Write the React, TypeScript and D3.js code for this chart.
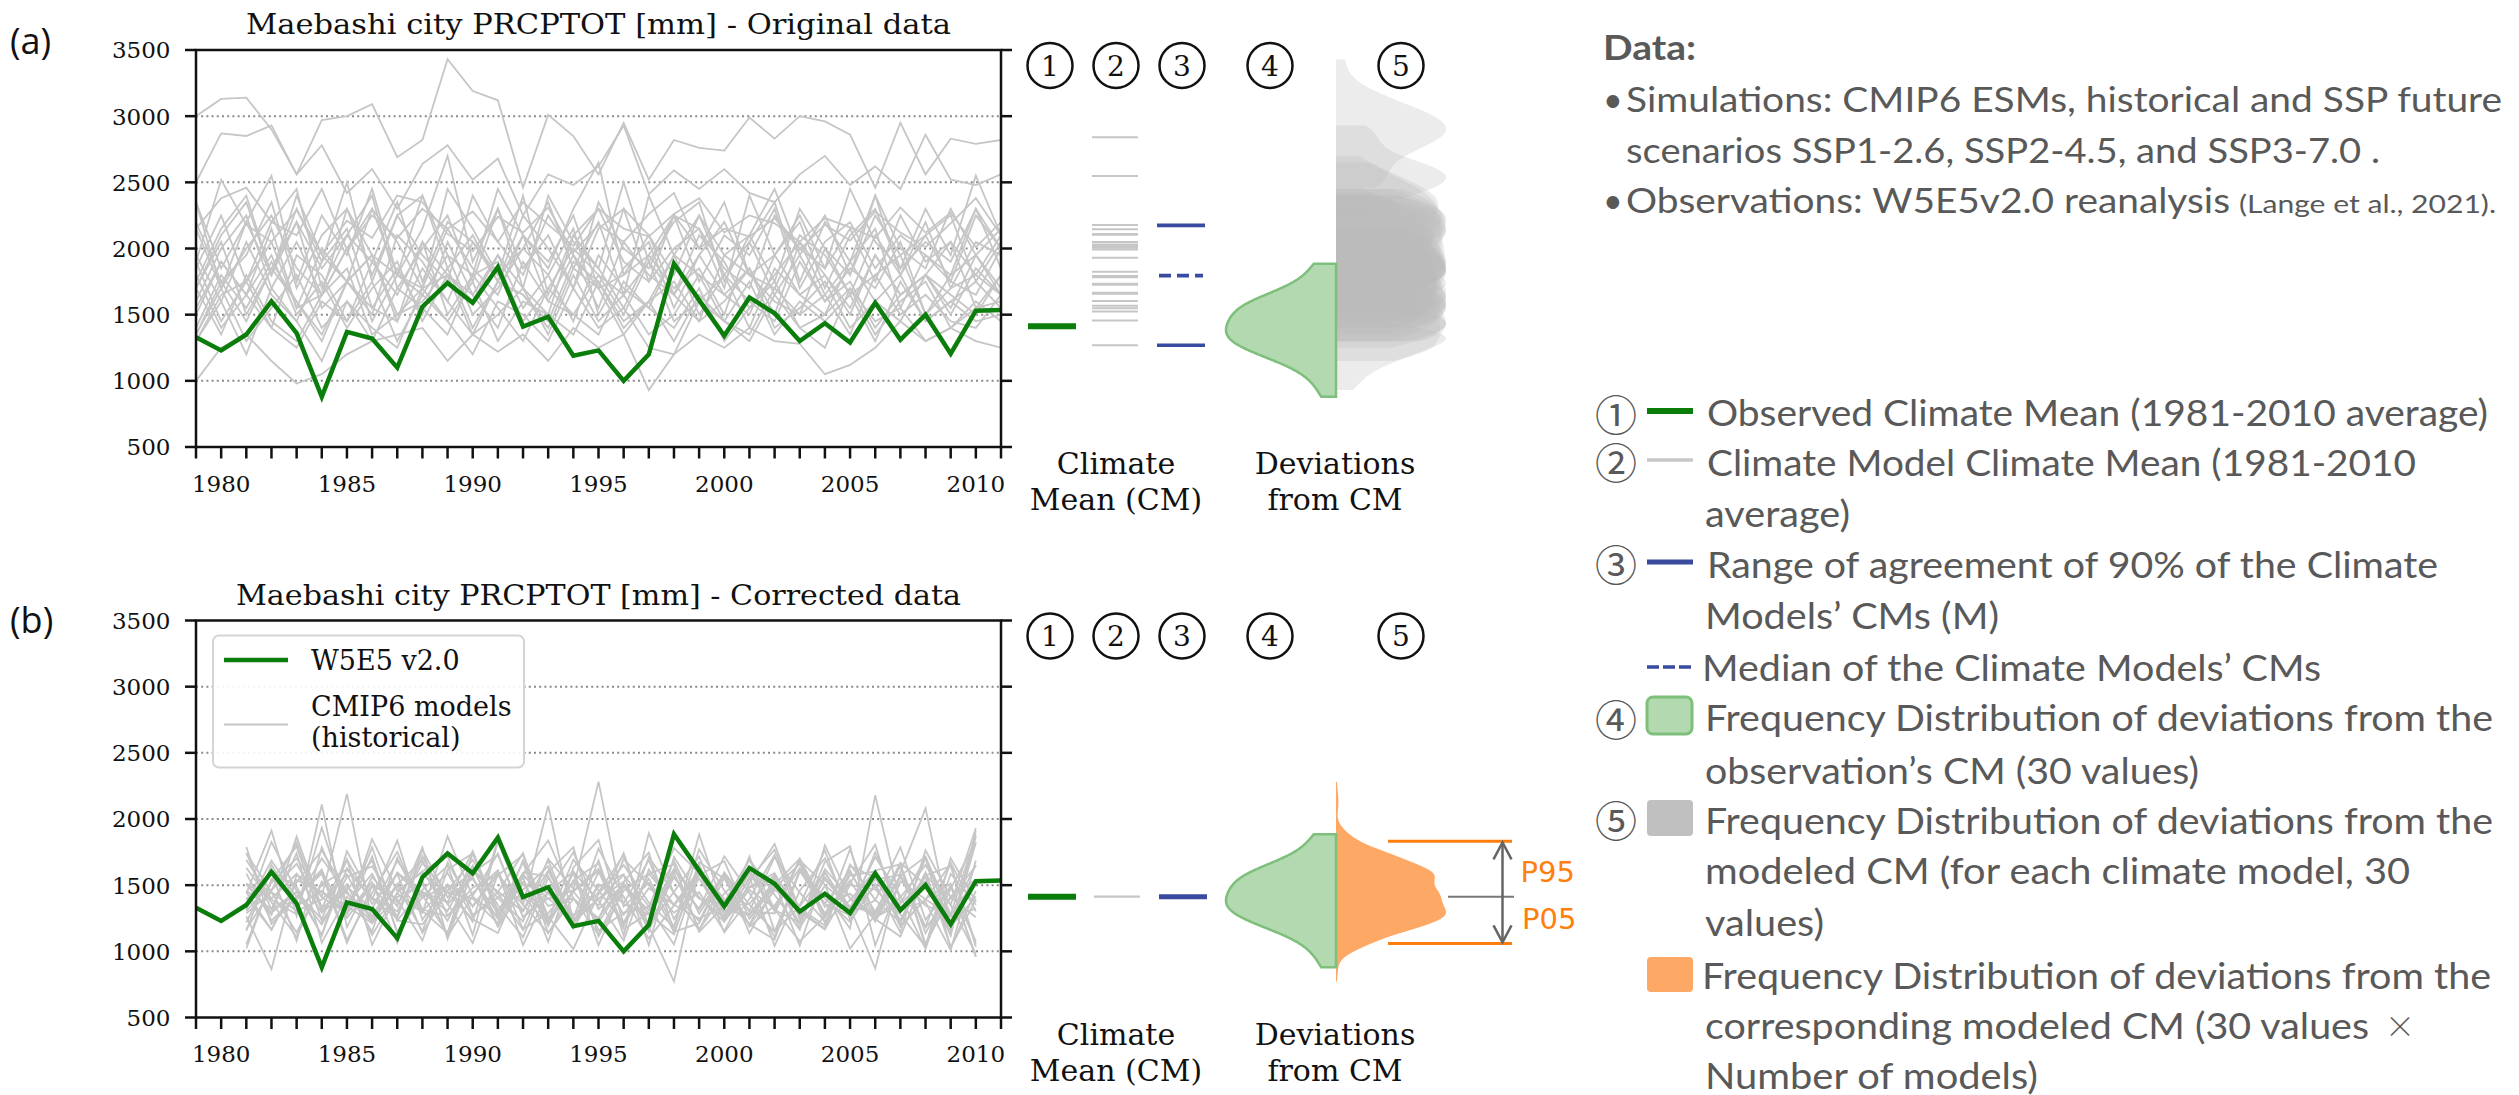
import React from "react";
import * as d3 from "d3";

// ---------------- DATA ----------------
const yearsFull = [1979, 1980, 1981, 1982, 1983, 1984, 1985, 1986, 1987, 1988, 1989, 1990, 1991, 1992, 1993, 1994, 1995, 1996, 1997, 1998, 1999, 2000, 2001, 2002, 2003, 2004, 2005, 2006, 2007, 2008, 2009, 2010, 2011];
const yearsModelCorrected = [1981, 1982, 1983, 1984, 1985, 1986, 1987, 1988, 1989, 1990, 1991, 1992, 1993, 1994, 1995, 1996, 1997, 1998, 1999, 2000, 2001, 2002, 2003, 2004, 2005, 2006, 2007, 2008, 2009, 2010];
const yTicks = [500, 1000, 1500, 2000, 2500, 3000, 3500];
const gridValues = [1000, 1500, 2000, 2500, 3000];
const xTickLabels = [1980, 1985, 1990, 1995, 2000, 2005, 2010];

// W5E5 v2.0 observations (1979-2011)
const observed = [1330, 1230, 1350, 1600, 1360, 880, 1370, 1320, 1100, 1560, 1740, 1590, 1860, 1410, 1485, 1190, 1230, 1000, 1200, 1885, 1610, 1340, 1630, 1510, 1300, 1435, 1290, 1590, 1310, 1500, 1205, 1530, 1535];

// CMIP6 models, original data (1979-2011)
const orig01 = [3000, 3130, 3140, 2900, 2560, 2970, 3000, 3090, 2690, 2820, 3430, 3190, 3120, 2460, 3010, 2850, 2560, 2950, 2520, 2820, 2760, 2740, 2990, 2830, 3000, 2960, 2860, 2460, 2950, 2560, 2830, 2790, 2820];
const orig02 = [2500, 2870, 2850, 2930, 2560, 2780, 2420, 2600, 2300, 2640, 2780, 2520, 2680, 2250, 2560, 2480, 2620, 2930, 2410, 2590, 2450, 2600, 2420, 2350, 2560, 2700, 2480, 2620, 2450, 2860, 2520, 2480, 2560];
const orig03 = [2150, 2380, 2460, 2200, 2100, 2450, 1990, 2250, 2080, 2300, 2150, 2280, 2050, 2350, 2180, 2020, 2300, 2150, 2090, 2260, 2380, 2120, 2250, 2190, 2050, 2230, 2160, 2080, 2310, 2120, 2270, 2010, 2200];
const orig04 = [1900, 2520, 2180, 2050, 2290, 1960, 2210, 2080, 2400, 2350, 2110, 1980, 2240, 2120, 2310, 1970, 2180, 2050, 2260, 2420, 2000, 2150, 2090, 2230, 1990, 2180, 2060, 2280, 2120, 2010, 2190, 2380, 2100];
const orig05 = [2350, 1850, 2200, 2550, 1750, 2250, 1950, 2450, 1800, 2150, 2700, 1900, 2300, 1700, 2400, 2050, 1850, 2500, 1900, 2200, 2350, 1750, 2100, 2450, 1950, 2250, 1800, 2400, 2000, 1850, 2300, 1950, 2150];
const orig06 = [1750, 2150, 2400, 1800, 2300, 1900, 2500, 1750, 2250, 2400, 1950, 1800, 2450, 2100, 1850, 2300, 2650, 1800, 1950, 2250, 2150, 1700, 2400, 1950, 2250, 1850, 2450, 2050, 1850, 2300, 1950, 2550, 2100];
const orig07 = [2350, 1700, 2200, 1800, 2400, 1950, 1750, 2300, 2050, 1700, 2450, 2150, 1800, 2000, 2350, 1850, 2200, 1650, 2400, 1950, 2250, 1800, 2050, 2350, 1750, 2200, 1900, 2400, 1800, 2100, 2250, 1750, 2050];
const orig08 = [1850, 2250, 1750, 2200, 2450, 1700, 2100, 1900, 2350, 1750, 2200, 2050, 1800, 2400, 1650, 2100, 2300, 1900, 1750, 2250, 2000, 2350, 1800, 1950, 2200, 1700, 2100, 2300, 1850, 2050, 1900, 2300, 1850];
const orig09 = [2200, 1750, 1950, 2350, 1700, 2100, 2300, 1800, 2250, 1950, 1750, 2400, 2050, 1800, 2250, 1950, 1700, 2300, 2100, 1800, 2250, 1950, 2100, 1750, 2300, 2000, 1800, 2250, 1950, 2100, 1750, 2250, 2000];
const orig10 = [1700, 2100, 2350, 1800, 2200, 1850, 2100, 2400, 1700, 2000, 2250, 1750, 2300, 1850, 2100, 1700, 2350, 2000, 1850, 2250, 1750, 2100, 1950, 2300, 1700, 2050, 2200, 1850, 2100, 1950, 1800, 2300, 2000];
const orig11 = [2150, 1700, 2000, 2250, 1850, 1650, 2300, 1950, 1800, 2400, 1850, 2100, 1750, 2250, 2000, 1700, 2150, 2300, 1750, 2000, 2150, 1850, 1700, 2250, 2000, 1850, 2150, 1750, 2250, 1900, 2050, 1800, 2100];
const orig12 = [1600, 2000, 2250, 1700, 2050, 1650, 2000, 2300, 1800, 1700, 2150, 1850, 1650, 2100, 1900, 2250, 1700, 1800, 2100, 1650, 1950, 2200, 1800, 1700, 2100, 1950, 1650, 2100, 1800, 2200, 1700, 2050, 1950];
const orig13 = [1500, 1900, 1650, 2150, 1550, 2000, 1750, 1500, 2100, 1900, 1600, 2050, 1750, 2100, 1600, 1950, 1550, 2050, 1800, 1650, 2100, 1900, 1550, 1800, 2050, 1650, 1900, 2150, 1550, 1950, 1750, 1650, 2000];
const orig14 = [1950, 1600, 2050, 1650, 1450, 1900, 2150, 1550, 1850, 1500, 2050, 1650, 1950, 1550, 1800, 2150, 1500, 1850, 2050, 1550, 1950, 1650, 1850, 1500, 2050, 1800, 1550, 1950, 1650, 1800, 2050, 1550, 1800];
const orig15 = [1700, 2050, 1500, 1850, 2200, 1550, 1750, 1950, 1450, 2050, 1800, 1600, 1950, 1700, 1500, 2100, 1850, 1550, 1950, 1700, 1850, 1500, 2050, 1650, 1950, 1600, 1850, 1700, 2050, 1500, 1800, 1950, 1700];
const orig16 = [1550, 1900, 1650, 1400, 1950, 1800, 1450, 1900, 1650, 2050, 1500, 1800, 1900, 1450, 1700, 2000, 1800, 1500, 1900, 1650, 1450, 1950, 1800, 1600, 1500, 2000, 1650, 1800, 1950, 1500, 1700, 1800, 1650];
const orig17 = [1900, 1450, 1750, 2050, 1550, 1650, 2000, 1450, 1800, 1650, 1950, 1500, 1700, 2000, 1800, 1450, 1950, 1700, 1550, 1950, 1800, 1650, 1500, 1950, 1650, 1800, 1500, 1950, 1650, 1800, 1550, 1950, 1650];
const orig18 = [1400, 1800, 1550, 1900, 1600, 1350, 1750, 1950, 1500, 1600, 1850, 1400, 1750, 1650, 1450, 1900, 1750, 1400, 1600, 1950, 1500, 1800, 1600, 1450, 1900, 1600, 1750, 1400, 1650, 1800, 1500, 1850, 1650];
const orig19 = [1800, 1400, 1650, 1950, 1500, 1750, 1400, 1700, 1900, 1450, 1800, 1650, 1400, 1900, 1600, 1500, 1800, 1650, 1900, 1450, 1600, 1800, 1400, 1850, 1650, 1500, 1900, 1600, 1450, 1800, 1650, 1500, 1800];
const orig20 = [1350, 1750, 1450, 1850, 1600, 1300, 1750, 1550, 1450, 1850, 1600, 1350, 1750, 1650, 1400, 1850, 1700, 1350, 1600, 1750, 1450, 1600, 1850, 1400, 1550, 1750, 1400, 1600, 1800, 1450, 1600, 1750, 1550];
const orig21 = [1700, 1350, 1800, 1450, 1300, 1650, 1850, 1350, 1500, 1700, 1800, 1350, 1500, 1700, 1350, 1800, 1450, 1650, 1350, 1500, 1800, 1450, 1350, 1700, 1500, 1650, 1350, 1800, 1500, 1650, 1450, 1400, 1650];
const orig22 = [1350, 1700, 1300, 1550, 1800, 1400, 1600, 1300, 1700, 1550, 1350, 1800, 1550, 1300, 1700, 1500, 1350, 1750, 1550, 1400, 1700, 1300, 1550, 1750, 1400, 1500, 1700, 1350, 1600, 1750, 1400, 1550, 1600];
const orig23 = [1300, 1650, 1750, 1400, 1250, 1600, 1450, 1750, 1300, 1650, 1450, 1750, 1300, 1600, 1500, 1350, 1750, 1450, 1600, 1300, 1650, 1450, 1750, 1350, 1600, 1450, 1650, 1300, 1750, 1450, 1600, 1450, 1500];
const orig24 = [1300, 1600, 1200, 1700, 1450, 1150, 1600, 1400, 1250, 1700, 1450, 1200, 1600, 1500, 1300, 1700, 1400, 1550, 1250, 1200, 1600, 1450, 1300, 1650, 1400, 1250, 1700, 1450, 1550, 1300, 1400, 1600, 1450];
const orig25 = [1000, 1250, 1350, 1150, 980, 1050, 1200, 1300, 1350, 1400, 1150, 1350, 1220, 1350, 1150, 1400, 1250, 1350, 930, 1200, 1350, 1250, 1400, 1300, 1280, 1050, 1120, 1250, 1450, 1300, 1400, 1300, 1250];

// CMIP6 models, bias-corrected data (1981-2010)
const corr01 = [1437, 1912, 1268, 2110, 1183, 1562, 1341, 1784, 1093, 1618, 1402, 1226, 1698, 1473, 2282, 1338, 1517, 1146, 1655, 1231, 1488, 1591, 1264, 1543, 1327, 1712, 1419, 1018, 1586, 1352];
const corr02 = [1264, 866, 1583, 1417, 2190, 1228, 1493, 1152, 1671, 1336, 1604, 1047, 1452, 1748, 1318, 1507, 1189, 772, 1626, 1372, 1695, 1428, 1163, 1802, 1396, 1247, 1561, 1344, 1281, 1539];
const corr03 = [1632, 1371, 1108, 1528, 1309, 1786, 1233, 1465, 1647, 1124, 1831, 1352, 2100, 1217, 1489, 1583, 1046, 1713, 1408, 1251, 1547, 1768, 1286, 1443, 1172, 2180, 1364, 1529, 1261, 1322];
const corr04 = [1053, 1536, 1794, 1228, 1487, 1319, 1683, 1421, 1136, 1742, 1307, 1558, 1071, 1634, 1842, 1209, 1476, 1353, 1611, 1142, 1398, 1727, 1243, 1562, 1331, 870, 1597, 2080, 1187, 1415];
const corr05 = [1743, 1316, 1448, 1124, 1627, 1392, 1836, 1238, 1507, 1343, 1574, 1729, 1262, 1018, 1433, 1652, 1367, 1181, 1771, 1459, 1204, 1089, 1618, 1286, 1536, 1223, 1571, 1716, 1279, 1880];
const corr06 = [1328, 1684, 1411, 1587, 1062, 1493, 1267, 1719, 1356, 1562, 1188, 1467, 1642, 1203, 1688, 1119, 1893, 1438, 1157, 1558, 1302, 1286, 1699, 1251, 1574, 1603, 1184, 1397, 1511, 958];
const corr07 = [1508, 1276, 1867, 1331, 1463, 1686, 1147, 1409, 1591, 1262, 1447, 1742, 1193, 1602, 1384, 1081, 1618, 1348, 1576, 1681, 1247, 1489, 1323, 1196, 1644, 1558, 1212, 1707, 1028, 1391];
const corr08 = [1393, 1597, 1078, 1786, 1342, 1213, 1507, 1688, 1271, 1441, 1612, 1168, 1287, 1523, 1346, 1743, 1186, 1562, 1314, 1589, 1137, 1478, 1661, 1265, 1772, 1254, 1406, 1653, 1349, 982];
const corr09 = [1167, 1463, 1661, 1328, 1696, 1049, 1437, 1292, 1869, 1413, 1269, 1594, 1568, 1173, 1509, 1362, 1688, 1244, 1552, 1241, 1717, 1153, 1339, 1602, 1288, 1385, 1786, 1238, 1493, 1076];
const corr10 = [1788, 1207, 1407, 1606, 1253, 1498, 1394, 1082, 1617, 1741, 1306, 1518, 1232, 1692, 1461, 1214, 1587, 1658, 1148, 1343, 1358, 1581, 1297, 1166, 1502, 1469, 1279, 1036, 1703, 1376];
const corr11 = [1312, 1826, 1456, 1203, 1563, 1642, 1368, 1531, 1114, 1419, 1739, 1259, 1447, 1601, 1158, 1292, 1337, 1781, 1592, 1226, 1464, 1329, 1689, 1503, 1021, 1278, 1567, 1181, 1402, 1647];
const corr12 = [1458, 1319, 1742, 1066, 1413, 1222, 1596, 1441, 1306, 1648, 1189, 1587, 1838, 1397, 1253, 1512, 1284, 1128, 1673, 1551, 1196, 1463, 1349, 1764, 1241, 1606, 1327, 1372, 1009, 1686];
const corr13 = [1021, 1547, 1383, 1702, 1438, 1263, 1589, 1406, 1492, 1224, 1843, 1417, 1201, 1536, 1667, 1168, 1288, 1559, 1322, 1719, 1441, 1107, 1603, 1361, 1611, 1244, 1112, 1581, 1353, 1932];
const corr14 = [1512, 1391, 1279, 1934, 1357, 1586, 1233, 1204, 1462, 1691, 1348, 1107, 1557, 1271, 1446, 1728, 1152, 1594, 1166, 1437, 1613, 1312, 1218, 1677, 1794, 1046, 1528, 1394, 1267, 1651];
const corr15 = [1407, 1164, 1538, 1449, 1281, 1848, 1456, 1597, 1362, 1063, 1583, 1308, 1687, 1219, 1396, 1526, 1746, 1147, 1213, 1592, 1303, 1712, 1443, 1226, 1387, 1611, 1658, 1138, 1496, 962];
const corr16 = [1743, 1447, 1306, 1391, 1582, 1214, 1409, 1506, 1231, 1621, 1438, 1162, 1598, 1787, 1113, 1457, 1588, 1352, 1248, 1342, 1692, 1318, 1076, 1264, 1517, 1806, 1197, 1393, 1661, 1034];
const corr17 = [1218, 1606, 1488, 1117, 1757, 1403, 1302, 1668, 1446, 1243, 1139, 1572, 1397, 1461, 1623, 1276, 1549, 1183, 1884, 1311, 1273, 1503, 1702, 1334, 1437, 1249, 1653, 1057, 1418, 1541];
const corr18 = [1587, 1233, 1409, 1618, 1086, 1443, 1752, 1316, 1267, 1481, 1579, 1352, 1139, 1396, 1238, 1697, 1502, 1291, 1448, 1152, 1518, 1811, 1308, 1173, 1657, 1389, 1219, 1597, 1029, 1457];
const corr19 = [1396, 1461, 1823, 1307, 1508, 1122, 1443, 1606, 1718, 1276, 1404, 1526, 1212, 1593, 1046, 1489, 1312, 1682, 1284, 1577, 1188, 1346, 1627, 1398, 1223, 1511, 1143, 1763, 1408, 1257];
const corr20 = [1156, 1652, 1342, 1457, 1292, 1717, 1138, 1449, 1371, 1759, 1268, 1508, 1441, 1202, 1597, 1356, 1279, 1622, 1407, 1223, 1561, 1041, 1458, 1703, 1312, 1543, 1578, 1187, 1668, 1302];
const corr21 = [1512, 1291, 1448, 1244, 1692, 1358, 1583, 1138, 1457, 1596, 1728, 1259, 1401, 1246, 1776, 1412, 1096, 1347, 1611, 1396, 1204, 1562, 1177, 1498, 1341, 1288, 1669, 1503, 1153, 1822];
const corr22 = [1303, 1517, 1703, 1408, 1288, 1523, 1062, 1581, 1447, 1398, 1212, 1688, 1246, 1451, 1606, 1189, 1711, 1443, 1228, 1596, 1352, 1147, 1608, 1357, 1273, 1749, 1326, 1563, 1117, 1911];
const corr23 = [1448, 1164, 1523, 1762, 1443, 1251, 1507, 1306, 1139, 1598, 1452, 1302, 1611, 1238, 1397, 1576, 1341, 1052, 1633, 1297, 1482, 1547, 1211, 1622, 1404, 1256, 1358, 1708, 1192, 1864];
const corr24 = [1287, 1446, 1143, 1508, 1619, 1397, 1252, 1767, 1408, 1552, 1244, 1586, 1343, 1401, 1128, 1513, 1202, 1448, 1716, 1269, 1591, 1303, 1683, 1213, 1597, 1299, 1647, 1038, 1476, 1822];
const corr25 = [1691, 1398, 1586, 1292, 1453, 1148, 1707, 1306, 1488, 1546, 1291, 1673, 1137, 1452, 1219, 1507, 1164, 1612, 1397, 1348, 1283, 1521, 1042, 1596, 1302, 1489, 1237, 1573, 1643, 1052];

// Climate means of the original models (column 2)
const originalModelCMs = [2840, 2548, 2178, 2145, 2110, 2104, 2049, 2030, 2018, 2005, 1992, 1931, 1825, 1792, 1783, 1733, 1727, 1665, 1658, 1603, 1568, 1548, 1523, 1455, 1269];
// Range of agreement of 90% of model CMs (column 3) and median
const agreementRange = [1269, 2175];
const medianCM = 1795;
// Percentiles of deviations of corrected models
const correctedPercentiles = [1060, 1831];
const percentileLabels = ["P05", "P95"];

const originalModels = [orig01, orig02, orig03, orig04, orig05, orig06, orig07, orig08, orig09, orig10, orig11, orig12, orig13, orig14, orig15, orig16, orig17, orig18, orig19, orig20, orig21, orig22, orig23, orig24, orig25];
const correctedModels = [corr01, corr02, corr03, corr04, corr05, corr06, corr07, corr08, corr09, corr10, corr11, corr12, corr13, corr14, corr15, corr16, corr17, corr18, corr19, corr20, corr21, corr22, corr23, corr24, corr25];

// ---------------- LAYOUT ----------------
const W = 2519;
const H = 1095;
const PL = 196;
const PR = 1001;
const PH = 397;
const SERIF = "'DejaVu Serif', serif";
const RFONT = "Lato, 'Open Sans', sans-serif";
const TGRAY = "#595959";
const GREEN = "#0a7d0a";
const MODEL_GRAY = "#c6c6c6";
const BLUE = "#3a4a9e";
const ORANGE = "#ff7f0e";
const VIOLIN_CX = 1336;
const VIOLIN_W = 110;

const xScale = d3.scaleLinear().domain([1979, 2011]).range([PL, PR]);
const makeY = (top: number) => d3.scaleLinear().domain([500, 3500]).range([top + PH, top]);

const obsPeriod = observed.slice(2, 32);
const obsCM = d3.mean(obsPeriod) as number;

function kdeShape(values: number[], steps = 160): [number, number][] {
  const n = values.length;
  const sd = d3.deviation(values) as number;
  const bw = sd * Math.pow(n, -1 / 5);
  const [lo, hi] = d3.extent(values) as [number, number];
  const pts: [number, number][] = [];
  for (let i = 0; i <= steps; i++) {
    const v = lo + ((hi - lo) * i) / steps;
    let s = 0;
    for (const xi of values) {
      const z = (v - xi) / bw;
      s += Math.exp(-0.5 * z * z);
    }
    pts.push([v, s]);
  }
  const mx = d3.max(pts, (p) => p[1]) as number;
  return pts.map(([v, s]) => [v, s / mx] as [number, number]);
}

function halfViolin(values: number[], dir: number, y: d3.ScaleLinear<number, number>) {
  const shape = kdeShape(values);
  const area = d3
    .area<[number, number]>()
    .y((d) => y(d[0]))
    .x0(VIOLIN_CX)
    .x1((d) => VIOLIN_CX + dir * d[1] * VIOLIN_W);
  return area(shape) as string;
}

// ---------------- COMPONENTS ----------------
function Panel(props: {
  top: number;
  title: string;
  titleLen: number;
  label: string;
  labelY: number;
  models: number[][];
  modelYears: number[];
  legend: boolean;
  id: string;
}) {
  const { top, title, titleLen, label, labelY, models, modelYears, legend, id } = props;
  const y = makeY(top);
  const bottom = top + PH;
  const modelLine = d3
    .line<number>()
    .x((_d, i) => xScale(modelYears[i]))
    .y((d) => y(d));
  const obsLine = d3
    .line<number>()
    .x((_d, i) => xScale(yearsFull[i]))
    .y((d) => y(d));
  return (
    <g>
      <defs>
        <clipPath id={id}>
          <rect x={PL} y={top} width={PR - PL} height={PH} />
        </clipPath>
      </defs>
      <text x={10} y={labelY} fontFamily="'Open Sans', sans-serif" fontSize={36} fill="#111">
        {label}
      </text>
      <text
        x={(PL + PR) / 2}
        y={top - 16}
        textAnchor="middle"
        fontFamily={SERIF}
        fontSize={28}
        textLength={titleLen}
        lengthAdjust="spacingAndGlyphs"
        fill="#111"
      >
        {title}
      </text>
      {gridValues.map((v) => (
        <line key={v} x1={PL} x2={PR} y1={y(v)} y2={y(v)} stroke="#8a8a8a" strokeWidth={2} strokeDasharray="2,3.2" />
      ))}
      <g clipPath={`url(#${id})`}>
        {models.map((m, i) => (
          <path key={i} d={modelLine(m) as string} fill="none" stroke={MODEL_GRAY} strokeWidth={1.8} />
        ))}
        <path d={obsLine(observed) as string} fill="none" stroke={GREEN} strokeWidth={4.5} strokeLinejoin="miter" />
      </g>
      <rect x={PL} y={top} width={PR - PL} height={PH} fill="none" stroke="#111" strokeWidth={2.5} />
      {yTicks.map((v) => (
        <g key={v}>
          <line x1={PL - 11} x2={PL} y1={y(v)} y2={y(v)} stroke="#111" strokeWidth={2.5} />
          <line x1={PR} x2={PR + 11} y1={y(v)} y2={y(v)} stroke="#111" strokeWidth={2.5} />
          <text x={170.5} y={y(v) + 8.4} textAnchor="end" fontFamily={SERIF} fontSize={23} fill="#111">
            {v}
          </text>
        </g>
      ))}
      {yearsFull.map((yr) => (
        <line key={yr} x1={xScale(yr)} x2={xScale(yr)} y1={bottom} y2={bottom + 11.5} stroke="#111" strokeWidth={2.5} />
      ))}
      {xTickLabels.map((yr) => (
        <text key={yr} x={xScale(yr)} y={bottom + 44.5} textAnchor="middle" fontFamily={SERIF} fontSize={23} fill="#111">
          {yr}
        </text>
      ))}
      {legend && (
        <g>
          <rect x={213} y={top + 15} width={311} height={132} rx={6} fill="#fff" fillOpacity={0.9} stroke="#d4d4d4" strokeWidth={2} />
          <line x1={224} x2={288} y1={top + 39.5} y2={top + 39.5} stroke={GREEN} strokeWidth={4.5} />
          <text x={311} y={top + 49.5} fontFamily={SERIF} fontSize={27} fill="#111">
            W5E5 v2.0
          </text>
          <line x1={224} x2={288} y1={top + 104} y2={top + 104} stroke={MODEL_GRAY} strokeWidth={1.8} />
          <text x={311} y={top + 95.5} fontFamily={SERIF} fontSize={27} fill="#111">
            CMIP6 models
          </text>
          <text x={311} y={top + 126} fontFamily={SERIF} fontSize={27} fill="#111">
            (historical)
          </text>
        </g>
      )}
    </g>
  );
}

const circleXs = [1050, 1116, 1182, 1270, 1401];
const circleDigits = ["1", "2", "3", "4", "5"];

function MiddleColumns(props: { top: number; corrected: boolean }) {
  const { top, corrected } = props;
  const y = makeY(top);
  const obsY = y(obsCM);
  return (
    <g>
      {circleXs.map((cx, i) => (
        <g key={i}>
          <circle cx={cx} cy={top + 15.5} r={22.5} fill="none" stroke="#111" strokeWidth={2.5} />
          <text x={cx} y={top + 25.5} textAnchor="middle" fontFamily={SERIF} fontSize={28} fill="#111">
            {circleDigits[i]}
          </text>
        </g>
      ))}
      <text x={1116} y={top + 424} textAnchor="middle" fontFamily={SERIF} fontSize={30} fill="#111">
        Climate
      </text>
      <text x={1116} y={top + 460} textAnchor="middle" fontFamily={SERIF} fontSize={30} fill="#111">
        Mean (CM)
      </text>
      <text x={1335} y={top + 424} textAnchor="middle" fontFamily={SERIF} fontSize={30} fill="#111">
        Deviations
      </text>
      <text x={1335} y={top + 460} textAnchor="middle" fontFamily={SERIF} fontSize={30} fill="#111">
        from CM
      </text>
      <line x1={1028} x2={1076} y1={obsY} y2={obsY} stroke={GREEN} strokeWidth={6} />
      {!corrected && (
        <g>
          {originalModelCMs.map((v, i) => (
            <line key={i} x1={1092} x2={1138} y1={y(v)} y2={y(v)} stroke={MODEL_GRAY} strokeWidth={2} />
          ))}
          {agreementRange.map((v, i) => (
            <line key={i} x1={1157} x2={1205} y1={y(v)} y2={y(v)} stroke={BLUE} strokeWidth={3.6} />
          ))}
          <line x1={1159} x2={1203} y1={y(medianCM)} y2={y(medianCM)} stroke={BLUE} strokeWidth={3.6} strokeDasharray="12,6" />
          {originalModels.map((m, i) => (
            <path key={i} d={halfViolin(m.slice(2, 32), 1, y)} fill="#b9b9b9" fillOpacity={0.28} />
          ))}
        </g>
      )}
      {corrected && (
        <g>
          <line x1={1094} x2={1140} y1={obsY} y2={obsY} stroke={MODEL_GRAY} strokeWidth={2.2} />
          <line x1={1159} x2={1207} y1={obsY} y2={obsY} stroke={BLUE} strokeWidth={5} />
          <path d={halfViolin(correctedModels.flat(), 1, y)} fill="#fea865" />
          {correctedPercentiles.map((v, i) => (
            <line key={i} x1={1388} x2={1512} y1={y(v)} y2={y(v)} stroke={ORANGE} strokeWidth={3} />
          ))}
          <line x1={1448} x2={1514} y1={obsY} y2={obsY} stroke="#777" strokeWidth={2} />
          <line x1={1502.5} x2={1502.5} y1={y(correctedPercentiles[1]) + 1} y2={y(correctedPercentiles[0]) - 1} stroke="#666" strokeWidth={2.5} />
          <polyline
            points={`${1493.5},${y(correctedPercentiles[1]) + 18} ${1502.5},${y(correctedPercentiles[1]) + 1} ${1511.5},${y(correctedPercentiles[1]) + 18}`}
            fill="none"
            stroke="#666"
            strokeWidth={2.5}
          />
          <polyline
            points={`${1493.5},${y(correctedPercentiles[0]) - 18} ${1502.5},${y(correctedPercentiles[0]) - 1} ${1511.5},${y(correctedPercentiles[0]) - 18}`}
            fill="none"
            stroke="#666"
            strokeWidth={2.5}
          />
          <text x={1520.5} y={top + 261} fontFamily="'DejaVu Sans', sans-serif" fontSize={29} fill={ORANGE}>
            {percentileLabels[1]}
          </text>
          <text x={1522} y={top + 308.5} fontFamily="'DejaVu Sans', sans-serif" fontSize={29} fill={ORANGE}>
            {percentileLabels[0]}
          </text>
        </g>
      )}
      <path d={halfViolin(obsPeriod, -1, y)} fill="#b3d9b1" stroke="#7dbf7b" strokeWidth={2.5} />
    </g>
  );
}

function RT(props: { x: number; y: number; w: number; size: number; bold?: boolean; children: React.ReactNode }) {
  return (
    <text
      x={props.x}
      y={props.y}
      fontFamily={RFONT}
      fontSize={props.size}
      fontWeight={props.bold ? 700 : 400}
      fill={TGRAY}
      textLength={props.w}
      lengthAdjust="spacingAndGlyphs"
    >
      {props.children}
    </text>
  );
}

const legendRows = [
  { t: "Observed Climate Mean (1981-2010 average)", x: 1707, y: 426, w: 781 },
  { t: "Climate Model Climate Mean (1981-2010", x: 1707, y: 476, w: 709 },
  { t: "average)", x: 1705, y: 527, w: 145 },
  { t: "Range of agreement of 90% of the Climate", x: 1707, y: 578, w: 731 },
  { t: "Models\u2019 CMs (M)", x: 1705, y: 629, w: 294 },
  { t: "Median of the Climate Models\u2019 CMs", x: 1702, y: 681, w: 619 },
  { t: "Frequency Distribution of deviations from the", x: 1705, y: 731, w: 788 },
  { t: "observation\u2019s CM (30 values)", x: 1705, y: 784, w: 494 },
  { t: "Frequency Distribution of deviations from the", x: 1705, y: 834, w: 788 },
  { t: "modeled CM (for each climate model, 30", x: 1705, y: 884, w: 705 },
  { t: "values)", x: 1705, y: 936, w: 119 },
  { t: "Frequency Distribution of deviations from the", x: 1702, y: 989, w: 789 },
  { t: "corresponding modeled CM (30 values", x: 1705, y: 1039, w: 664 },
  { t: "Number of models)", x: 1705, y: 1089, w: 333 },
];

const legendCircles = [
  { c: "\u2460", y: 412 },
  { c: "\u2461", y: 460 },
  { c: "\u2462", y: 562 },
  { c: "\u2463", y: 717 },
  { c: "\u2464", y: 818 },
];

function RightPanel() {
  return (
    <g>
      <RT x={1603} y={60} w={93} size={35} bold>
        Data:
      </RT>
      <text x={1603} y={112} fontFamily={RFONT} fontSize={34} fill={TGRAY}>
        •
      </text>
      <RT x={1626} y={112} w={876} size={34}>
        Simulations: CMIP6 ESMs, historical and SSP future
      </RT>
      <RT x={1626} y={163} w={754} size={34}>
        scenarios SSP1-2.6, SSP2-4.5, and SSP3-7.0 .
      </RT>
      <text x={1603} y={213} fontFamily={RFONT} fontSize={34} fill={TGRAY}>
        •
      </text>
      <RT x={1626} y={213} w={604} size={34}>
        Observations: W5E5v2.0 reanalysis
      </RT>
      <RT x={2239} y={213} w={257} size={25}>
        (Lange et al., 2021).
      </RT>

      {legendCircles.map((c, i) => (
        <text
          key={i}
          x={1616}
          y={c.y}
          textAnchor="middle"
          dominantBaseline="central"
          fontFamily="'Noto Sans CJK JP', sans-serif"
          fontSize={42}
          fill={TGRAY}
        >
          {c.c}
        </text>
      ))}
      <line x1={1647} x2={1693} y1={411} y2={411} stroke={GREEN} strokeWidth={6} />
      <line x1={1647} x2={1693} y1={460} y2={460} stroke="#c8c8c8" strokeWidth={3.5} />
      <line x1={1647} x2={1693} y1={562} y2={562} stroke={BLUE} strokeWidth={5} />
      <line x1={1647} x2={1691} y1={667} y2={667} stroke={BLUE} strokeWidth={3.5} strokeDasharray="12,4" />
      <rect x={1647} y={697} width={45} height={37} rx={6} fill="#b3d9b1" stroke="#7dbf7b" strokeWidth={3} />
      <rect x={1647} y={800} width={46} height={36} rx={4} fill="#c0c0c0" />
      <rect x={1647} y={957} width={46} height={35} rx={4} fill="#fea865" />

      {legendRows.map((r, i) => (
        <RT key={i} x={r.x} y={r.y} w={r.w} size={37}>
          {r.t}
        </RT>
      ))}
      <text
        x={2400}
        y={1024}
        textAnchor="middle"
        dominantBaseline="central"
        fontFamily="'Noto Sans CJK JP', sans-serif"
        fontSize={30}
        fontWeight={300}
        fill={TGRAY}
      >
        ×
      </text>
    </g>
  );
}

export default function App() {
  return (
    <svg
      width={W}
      height={H}
      viewBox={`0 0 ${W} ${H}`}
      style={{ position: "absolute", left: 0, top: 0, background: "#fff" }}
    >
      <rect x={0} y={0} width={W} height={H} fill="#fff" />
      <Panel
        id="clipA"
        top={50}
        title="Maebashi city PRCPTOT [mm] - Original  data"
        titleLen={705}
        label="(a)"
        labelY={54}
        models={originalModels}
        modelYears={yearsFull}
        legend={false}
      />
      <Panel
        id="clipB"
        top={620.5}
        title="Maebashi city PRCPTOT [mm] - Corrected data"
        titleLen={725}
        label="(b)"
        labelY={633}
        models={correctedModels}
        modelYears={yearsModelCorrected}
        legend={true}
      />
      <MiddleColumns top={50} corrected={false} />
      <MiddleColumns top={620.5} corrected={true} />
      <RightPanel />
    </svg>
  );
}
